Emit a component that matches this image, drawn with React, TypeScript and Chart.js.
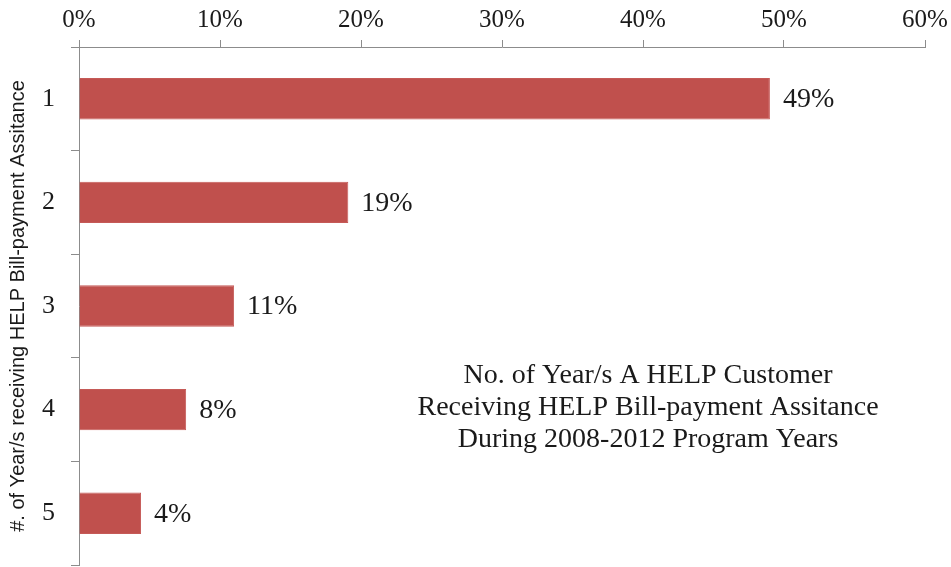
import React, { useEffect, useRef } from "react";
import { Chart, registerables } from "chart.js";

Chart.register(...registerables);

const categories = ["1", "2", "3", "4", "5"];
const shares = [0.49, 0.191, 0.11, 0.076, 0.044];
const valueLabels = ["49%", "19%", "11%", "8%", "4%"];
const xMax = 0.6;
const xStep = 0.1;
const yTitle = "#. of Year/s receiving HELP Bill-payment Assitance";
const noteLines = [
  "No. of Year/s A HELP Customer",
  "Receiving HELP Bill-payment Assitance",
  "During 2008-2012 Program Years",
];

const SERIF = "'Liberation Serif', 'Times New Roman', serif";
const SANS = "'Liberation Sans', Arial, sans-serif";
const AXIS_GRAY = "#8c8c8c";
const TEXT = "#1a1a1a";

const valueLabelPlugin = {
  id: "valueLabels",
  afterDatasetsDraw(chart: any) {
    const ctx = chart.ctx;
    const meta = chart.getDatasetMeta(0);
    ctx.save();
    ctx.font = `28px ${SERIF}`;
    ctx.fillStyle = TEXT;
    ctx.textAlign = "left";
    ctx.textBaseline = "middle";
    meta.data.forEach((bar: any, i: number) => {
      ctx.fillText(valueLabels[i], bar.x + 13, bar.y + 1);
    });
    ctx.restore();
  },
};

const notePlugin = {
  id: "note",
  afterDraw(chart: any) {
    const ctx = chart.ctx;
    const area = chart.chartArea;
    ctx.save();
    ctx.font = `28px ${SERIF}`;
    ctx.fillStyle = TEXT;
    ctx.textAlign = "center";
    ctx.textBaseline = "middle";
    const cx = area.left + (area.right - area.left) * 0.6726;
    const top = area.top + (area.bottom - area.top) * 0.635;
    noteLines.forEach((line, i) => {
      ctx.fillText(line, cx, top + i * 32);
    });
    ctx.restore();
  },
};

export default function App() {
  const canvasRef = useRef<HTMLCanvasElement | null>(null);

  useEffect(() => {
    if (!canvasRef.current) return;
    const chart = new Chart(canvasRef.current, {
      type: "bar",
      data: {
        labels: categories,
        datasets: [
          {
            data: shares,
            backgroundColor: "#C0504D",
            borderColor: "#C55A57",
            borderWidth: 1,
            barPercentage: 0.4,
            categoryPercentage: 1,
          },
        ],
      },
      options: {
        indexAxis: "y",
        responsive: false,
        animation: false,
        devicePixelRatio: 1,
        layout: { padding: { left: 0, top: 0, right: 26, bottom: 2 } },
        plugins: {
          legend: { display: false },
          tooltip: { enabled: false },
          title: { display: false },
        },
        scales: {
          x: {
            position: "top",
            min: 0,
            max: xMax,
            afterFit(scale: any) {
              scale.height = 47;
              scale.paddingLeft = 0;
              scale.paddingRight = 0;
            },
            ticks: {
              stepSize: xStep,
              padding: 5,
              color: TEXT,
              font: { family: SERIF, size: 25 },
              callback: (v: any) => `${Math.round(Number(v) * 100)}%`,
            },
            grid: {
              drawOnChartArea: false,
              drawTicks: true,
              tickLength: 7,
              color: AXIS_GRAY,
            },
            border: { display: true, color: AXIS_GRAY, width: 1 },
          },
          y: {
            afterFit(scale: any) {
              scale.width = 79;
              scale.paddingTop = 0;
              scale.paddingBottom = 0;
            },
            ticks: {
              padding: 16,
              color: TEXT,
              font: { family: SERIF, size: 26 },
            },
            grid: {
              offset: true,
              drawOnChartArea: false,
              drawTicks: true,
              tickLength: 8,
              color: AXIS_GRAY,
            },
            border: { display: true, color: AXIS_GRAY, width: 1 },
            title: {
              display: true,
              text: yTitle,
              color: TEXT,
              font: { family: SANS, size: 20 },
              padding: { top: 6, bottom: 0 },
            },
          },
        },
      },
      plugins: [valueLabelPlugin, notePlugin],
    });
    return () => chart.destroy();
  }, []);

  return (
    <div style={{ position: "fixed", left: 0, top: 0, width: 951, height: 567, background: "#fff" }}>
      <canvas ref={canvasRef} width={951} height={567} />
    </div>
  );
}
